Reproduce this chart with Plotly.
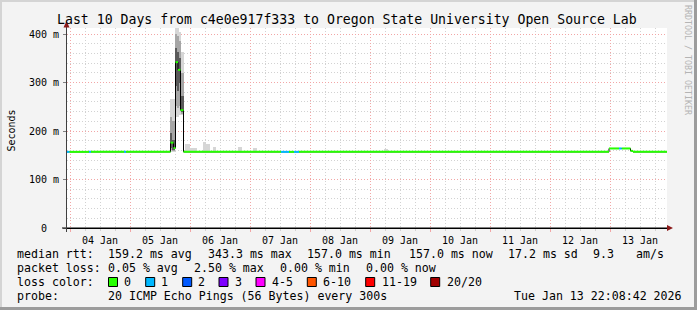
import plotly.graph_objects as go
import pandas as pd

# ---------------- data ----------------
x_start = "2026-01-03 22:48"
x_end = "2026-01-13 22:48"

# median RTT segments (ms) with lost pings (of 20)
seg_start = ["2026-01-03 22:48", "2026-01-03 23:45", "2026-01-04 07:36", "2026-01-04 08:24",
             "2026-01-04 21:36", "2026-01-04 22:24", "2026-01-05 16:12", "2026-01-05 17:24",
             "2026-01-05 18:12", "2026-01-05 19:12", "2026-01-05 20:12", "2026-01-05 21:24",
             "2026-01-07 12:24", "2026-01-07 15:36", "2026-01-07 17:36", "2026-01-07 19:36",
             "2026-01-12 23:36", "2026-01-13 03:36", "2026-01-13 04:40", "2026-01-13 08:12",
             "2026-01-13 09:12"]
seg_end = seg_start[1:] + [x_end]
seg_median = [157, 157, 157, 157, 157, 157, 176, 165, 342, 326, 243, 157,
              157, 157, 157, 157, 164, 164, 164, 159, 157]
seg_loss = [1, 0, 1, 0, 1, 0, 0, 0, 0, 0, 0, 0, 1, 0, 1, 0, 0, 1, 0, 0, 0]

# smoke (ping distribution) columns, ms
smoke_start = ["2026-01-05 16:00", "2026-01-05 16:48", "2026-01-05 18:07", "2026-01-05 18:55",
               "2026-01-05 19:43", "2026-01-05 20:31", "2026-01-05 22:00", "2026-01-06 00:00",
               "2026-01-06 05:12", "2026-01-06 06:24", "2026-01-06 09:12", "2026-01-06 19:12",
               "2026-01-07 01:12", "2026-01-09 05:36"]
smoke_end = ["2026-01-05 16:48", "2026-01-05 18:00", "2026-01-05 18:55", "2026-01-05 19:43",
             "2026-01-05 20:31", "2026-01-05 21:29", "2026-01-06 00:00", "2026-01-06 02:48",
             "2026-01-06 06:24", "2026-01-06 08:00", "2026-01-06 10:24", "2026-01-06 20:48",
             "2026-01-07 02:48", "2026-01-09 07:12"]
smoke_min = [157, 157, 229, 229, 233, 233, 157, 157, 157, 157, 157, 157, 157, 157]
smoke_p10 = [160, 159, 252, 248, 252, 236, 157, 157, 157, 157, 157, 157, 157, 157]
smoke_p25 = [164, 161, 292, 282, 300, 240, 157, 157, 157, 157, 157, 157, 157, 157]
smoke_p75 = [195, 182, 372, 362, 350, 272, 157, 157, 157, 157, 157, 157, 157, 157]
smoke_p90 = [228, 220, 400, 396, 385, 320, 157, 157, 157, 157, 157, 157, 157, 157]
smoke_max = [266, 266, 412, 412, 405, 363, 173, 165, 178, 174, 167, 168, 164, 162]

loss_labels = ["0", "1", "2", "3", "4-5", "6-10", "11-19", "20/20"]
loss_colors = ["#26ff00", "#00b8ff", "#0059ff", "#7e00ff", "#ff00ff", "#ff5500", "#ff0000", "#a10000"]

y_tickvals = [0, 100, 200, 300, 400]
y_ticktext = ["0\u00a0\u00a0", "100 m", "200 m", "300 m", "400 m"]

title_text = "Last 10 Days from c4e0e917f333 to Oregon State University Open Source Lab"
legend_rows = [
    [("median rtt:", 16), ("159.2 ms avg", 107.3), ("343.3 ms max", 207.3), ("157.0 ms min", 306.3),
     ("157.0 ms now", 407.7), ("17.2 ms sd", 506.7), ("9.3", 591.7), ("am/s", 635)],
    [("packet loss:", 16), ("0.05 % avg", 107.3), ("2.50 % max", 193.3), ("0.00 % min", 279.3),
     ("0.00 % now", 365)],
    [("loss color:", 16)],
    [("probe:", 16), ("20 ICMP Echo Pings (56 Bytes) every 300s", 107.3),
     ("Tue Jan 13 22:08:42 2026", 513.3)],
]
legend_row_y = [254.3, 268.3, 282.3, 296.0]
swatch_x = [108.5, 145.7, 182.7, 219.0, 256.0, 307.3, 365.7, 430.7]
swatch_label_x = [123.3, 160.0, 197.3, 234.0, 270.7, 321.7, 380.7, 445.7]

# ---------------- layout geometry ----------------
W, H = 697, 310
L, R, T, B = 67, 667, 28, 228
Y_TOP = 412.4


def px(x):
    return (x - L) / (R - L)


def py(y):
    return (B - y) / (B - T)


FONT = "DejaVu Sans Mono"
fig = go.Figure()

# smoke
ss = pd.to_datetime(pd.Series(smoke_start))
se = pd.to_datetime(pd.Series(smoke_end))
centers = ss + (se - ss) / 2
widths = ((se - ss).dt.total_seconds() * 1000).tolist()
bands = [(smoke_min, smoke_max, "#d6d6d6"), (smoke_p10, smoke_p90, "#a6a6a6"),
         (smoke_p25, smoke_p75, "#5a5a5a")]
for lo, hi, col in bands:
    fig.add_trace(go.Bar(x=centers, y=[h - l for l, h in zip(lo, hi)], base=lo, width=widths,
                         marker=dict(color=col, line=dict(width=0)), hoverinfo="skip"))

# median step line (black transitions)
fig.add_trace(go.Scatter(x=seg_start + [seg_end[-1]], y=seg_median + [seg_median[-1]],
                         mode="lines", line=dict(color="#000000", width=1, shape="hv"),
                         hoverinfo="skip"))

# loss-coloured median segments
for cls, col in enumerate(loss_colors):
    xs, ys = [], []
    for s, e, m, lo in zip(seg_start, seg_end, seg_median, seg_loss):
        if lo == cls:
            xs += [s, e, None]
            ys += [m, m, None]
    if xs:
        fig.add_trace(go.Scatter(x=xs, y=ys, mode="lines", line=dict(color=col, width=2),
                                 hoverinfo="skip"))

major_grid = "#f2a6a6"
minor_grid = "#d2d2d2"

fig.update_layout(
    width=W, height=H,
    margin=dict(l=L, r=W - R, t=T, b=H - B),
    paper_bgcolor="#f3f3f3", plot_bgcolor="#ffffff",
    showlegend=False, barmode="overlay", bargap=0,
    font=dict(family=FONT, size=10, color="#000000"),
    xaxis=dict(type="date", range=[x_start, x_end], dtick=86400000, tick0="2026-01-04",
               tickformat="%d %b", ticklabelmode="period",
               showgrid=True, gridcolor=major_grid, griddash="1px,2px", gridwidth=1,
               ticks="outside", ticklen=3, tickcolor=major_grid,
               minor=dict(dtick=6 * 3600000, showgrid=True, gridcolor=minor_grid,
                          griddash="1px,2px", ticks="outside", ticklen=2, tickcolor=minor_grid),
               showline=True, linecolor="#000000", linewidth=1, zeroline=False,
               tickfont=dict(family=FONT, size=10), fixedrange=True),
    yaxis=dict(range=[0, Y_TOP], tickvals=y_tickvals, ticktext=y_ticktext,
               showgrid=True, gridcolor=major_grid, griddash="1px,2px",
               ticks="outside", ticklen=3, tickcolor="#808080",
               minor=dict(dtick=20, showgrid=True, gridcolor=minor_grid, griddash="1px,2px"),
               showline=True, linecolor="#404040", linewidth=1, zeroline=False,
               tickfont=dict(family=FONT, size=10), ticklabelstandoff=2, fixedrange=True),
)

shapes = []
# axis extensions
shapes.append(dict(type="line", xref="paper", yref="paper", x0=px(62), x1=px(667), y0=0, y1=0,
                   line=dict(color="#000000", width=1)))
shapes.append(dict(type="line", xref="paper", yref="paper", x0=px(66.5), x1=px(66.5), y0=py(232),
                   y1=py(23), line=dict(color="#404040", width=1)))
# arrows
shapes.append(dict(type="path", xref="paper", yref="paper",
                   path=f"M {px(63.5)} {py(27.5)} L {px(69.5)} {py(27.5)} L {px(66.5)} {py(21)} Z",
                   fillcolor="#8b1a1a", line=dict(width=0)))
shapes.append(dict(type="path", xref="paper", yref="paper",
                   path=f"M {px(667)} {py(225)} L {px(667)} {py(231)} L {px(673)} {py(228)} Z",
                   fillcolor="#8b1a1a", line=dict(width=0)))
# frame edges
shapes.append(dict(type="rect", xref="paper", yref="paper", x0=px(0), x1=px(697), y0=py(0), y1=py(2),
                   fillcolor="#d4d4d4", line=dict(width=0)))
shapes.append(dict(type="rect", xref="paper", yref="paper", x0=px(0), x1=px(2), y0=py(0), y1=py(310),
                   fillcolor="#d4d4d4", line=dict(width=0)))
shapes.append(dict(type="rect", xref="paper", yref="paper", x0=px(694), x1=px(697), y0=py(0), y1=py(310),
                   fillcolor="#9c9c9c", line=dict(width=0)))
shapes.append(dict(type="rect", xref="paper", yref="paper", x0=px(0), x1=px(697), y0=py(307), y1=py(310),
                   fillcolor="#9c9c9c", line=dict(width=0)))
# legend swatches
for sx, col in zip(swatch_x, loss_colors):
    shapes.append(dict(type="rect", xref="paper", yref="paper", x0=px(sx), x1=px(sx + 9),
                       y0=py(277.5), y1=py(286.5), fillcolor=col, line=dict(color="#000000", width=1)))

ann = []
ann.append(dict(text=title_text, x=px(347), y=py(19.5), xref="paper", yref="paper", showarrow=False,
                xanchor="center", yanchor="middle", font=dict(family=FONT, size=13.2, color="#000000")))
ann.append(dict(text="Seconds", x=px(10.5), y=py(131), xref="paper", yref="paper", showarrow=False,
                textangle=-90, xanchor="center", yanchor="middle", font=dict(family=FONT, size=10)))
ann.append(dict(text="RRDTOOL / TOBI OETIKER", x=px(688), y=py(60), xref="paper", yref="paper",
                showarrow=False, textangle=90, xanchor="center", yanchor="middle",
                font=dict(family=FONT, size=8.3, color="#b4b4b4")))
for row, yy in zip(legend_rows, legend_row_y):
    for txt, xx in row:
        ann.append(dict(text=txt, x=px(xx - 1), y=py(yy), xref="paper", yref="paper", showarrow=False,
                        xanchor="left", yanchor="middle", font=dict(family=FONT, size=11.6)))
for lab, xx in zip(loss_labels, swatch_label_x):
    ann.append(dict(text=lab, x=px(xx - 1), y=py(legend_row_y[2]), xref="paper", yref="paper",
                    showarrow=False, xanchor="left", yanchor="middle", font=dict(family=FONT, size=11.6)))

fig.update_layout(shapes=shapes, annotations=ann)
fig.write_html("out.html")
